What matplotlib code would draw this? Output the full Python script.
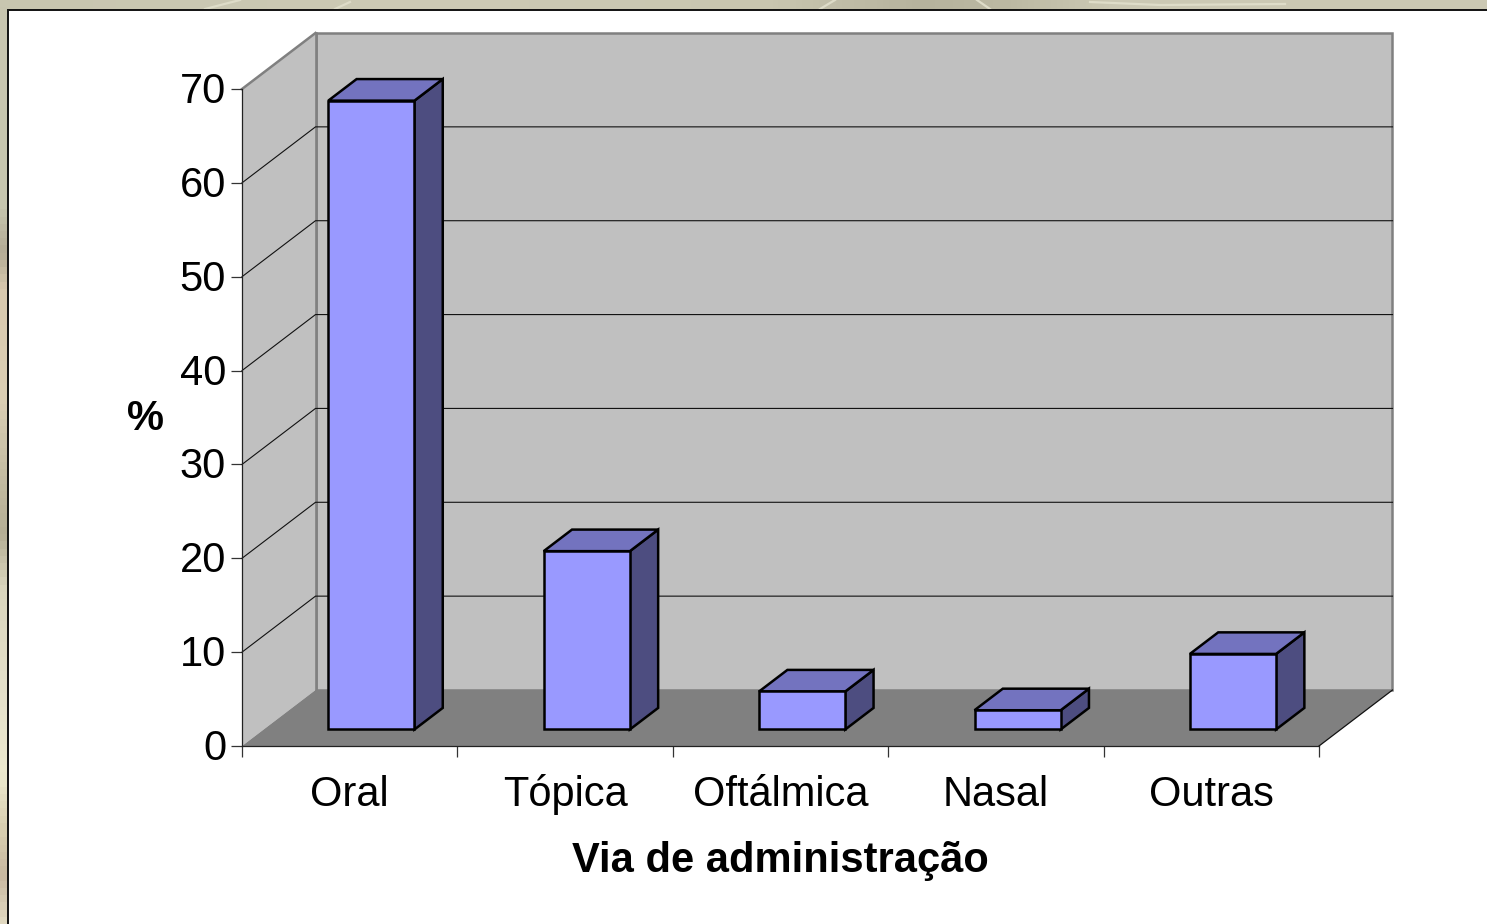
import numpy as np
import matplotlib
matplotlib.use("Agg")
import matplotlib.pyplot as plt
from matplotlib.patches import Polygon, Rectangle
from matplotlib.colors import LinearSegmentedColormap
from matplotlib.transforms import ScaledTranslation

categories = ["Oral", "Tópica", "Oftálmica", "Nasal", "Outras"]
values = [67.0, 19.0, 4.05, 2.05, 8.05]
y_ticks = [0, 10, 20, 30, 40, 50, 60, 70]
x_label = "Via de administração"
y_label = "%"

W, H = 1487, 924
plt.rcParams["font.family"] = ["Liberation Sans", "DejaVu Sans"]
fig = plt.figure(figsize=(W / 100, H / 100), dpi=100, facecolor="#CCC9B4")

# ---- slide background
bg = fig.add_axes([0, 0, 1, 1], zorder=0)
bg.axis("off")
left_cmap = LinearSegmentedColormap.from_list("l", [
    (0.00, "#C8C6B0"), (0.22, "#C6C5AE"), (0.27, "#B3AB95"), (0.31, "#D8C9AE"),
    (0.43, "#DCCFB4"), (0.47, "#CFC6AC"), (0.58, "#B5AE95"), (0.64, "#DAD6BE"),
    (0.75, "#E4E0CA"), (0.84, "#EDEACF"), (0.90, "#D8CFB0"), (0.95, "#C8B8A0"),
    (1.00, "#E0D8C0")])
top_cmap = LinearSegmentedColormap.from_list("t", [
    (0.00, "#C8C6B0"), (0.30, "#CDCAB5"), (0.52, "#C9C6B0"), (0.62, "#B6B39D"),
    (0.68, "#BCB9A3"), (0.75, "#CCC9B4"), (1.00, "#CBC8B3")])
bg.imshow(np.linspace(0, 1, 256)[None, :], cmap=top_cmap, extent=[0, W, 12, 0], aspect="auto", zorder=0)
bg.imshow(np.linspace(0, 1, 128)[:, None], cmap=left_cmap, extent=[0, 9, H, 0], aspect="auto", zorder=0.5)
bg.set_xlim(0, W); bg.set_ylim(H, 0)
for xs, ys in [([205, 240], [9, 0]), ([335, 350], [9, 2]), ([820, 835], [9, 0]),
               ([990, 977], [9, 0]), ([1090, 1160, 1285], [2, 5, 4])]:
    bg.plot(xs, ys, color="#DEDCC8", lw=1.6, zorder=1)
bg.add_patch(Rectangle((8, 9.5), W, H, fc="white", ec="#111111", lw=1.4, zorder=2))

# ---- front plane of the 3-D box is the axes
px_l, px_r, px_top, px_bot = 242, 1319, 89, 746
ax = fig.add_axes([px_l / W, 1 - px_bot / H, (px_r - px_l) / W, (px_bot - px_top) / H], zorder=1)
ax.patch.set_alpha(0)
n = len(categories)
ymax = y_ticks[-1]
ax.set_xlim(0, n)
ax.set_ylim(0, ymax)

# depth of the box in data units
dx = 73.5 / ((px_r - px_l) / n)
dy = 56 / ((px_bot - px_top) / ymax)

GREY_WALL, GREY_FLOOR, GREY_EDGE = "#C0C0C0", "#808080", "#808080"

def poly(pts, fc, ec="none", lw=0, z=1):
    ax.add_patch(Polygon(pts, closed=True, fc=fc, ec=ec, lw=lw, zorder=z, clip_on=False, joinstyle="miter"))

# walls and floor
poly([(dx, dy), (n + dx, dy), (n + dx, ymax + dy), (dx, ymax + dy)], GREY_WALL, GREY_EDGE, 1.8, 1)
poly([(0, 0), (dx, dy), (dx, ymax + dy), (0, ymax)], GREY_WALL, z=1)
ax.plot([dx, dx], [dy, ymax + dy], color=GREY_EDGE, lw=1.8, zorder=1.5, clip_on=False)
ax.plot([0, dx], [ymax, ymax + dy], color=GREY_EDGE, lw=1.8, zorder=1.5, clip_on=False)
for v in y_ticks[1:-1]:
    ax.plot([0, dx, n + dx], [v, v + dy, v + dy], color="#111111", lw=0.8, zorder=2, clip_on=False)
poly([(0, 0), (n, 0), (n + dx, dy), (dx, dy)], GREY_FLOOR, z=3)
ax.plot([n, n + dx], [0, dy], color="#111111", lw=0.9, zorder=3.5, clip_on=False)

# bars
bar_w = 0.4
f0, f1 = 0.295, 0.68
for i, v in enumerate(values):
    x0 = i + 0.5 - bar_w / 2 + f0 * dx
    x1 = x0 + bar_w
    y0 = f0 * dy
    ddx, ddy = (f1 - f0) * dx, (f1 - f0) * dy
    y1 = y0 + v
    kw = dict(ec="black", lw=1.8, z=5)
    poly([(x1, y0), (x1 + ddx, y0 + ddy), (x1 + ddx, y1 + ddy), (x1, y1)], "#4D4D80", **kw)
    poly([(x0, y1), (x1, y1), (x1 + ddx, y1 + ddy), (x0 + ddx, y1 + ddy)], "#7373BF", **kw)
    poly([(x0, y0), (x1, y0), (x1, y1), (x0, y1)], "#9999FF", **kw)

# axes
for s in ["top", "right"]:
    ax.spines[s].set_visible(False)
for s in ["left", "bottom"]:
    ax.spines[s].set_color("#222222")
    ax.spines[s].set_linewidth(0.9)
    ax.spines[s].set_zorder(4)
ax.set_yticks(y_ticks)
ax.set_yticklabels([str(t) for t in y_ticks])
ax.tick_params(axis="y", length=8, width=0.9, color="#333333", pad=3.5, labelsize=30)
up = ScaledTranslation(0, 1.5 / 100, fig.dpi_scale_trans)
for lab in ax.get_yticklabels():
    lab.set_transform(lab.get_transform() + up)
ax.set_xticks(np.arange(n + 1))
ax.set_xticklabels([])
ax.tick_params(axis="x", which="major", length=8, width=0.9, color="#333333")
ax.set_xticks(np.arange(n) + 0.5, minor=True)
ax.set_xticklabels(categories, minor=True)
ax.tick_params(axis="x", which="minor", length=0, pad=43, labelsize=30)
for lab in ax.get_xticklabels(minor=True):
    lab.set_verticalalignment("baseline")
ax.set_xlabel(x_label, fontsize=30, fontweight="bold", va="center")
ax.xaxis.set_label_coords(0.4996, -0.1745)
ax.set_ylabel(y_label, fontsize=30, fontweight="bold", rotation=0, ha="center", va="center")
ax.yaxis.set_label_coords(-0.09, 0.498)

fig.savefig("out.png", dpi=100, facecolor=fig.get_facecolor())
